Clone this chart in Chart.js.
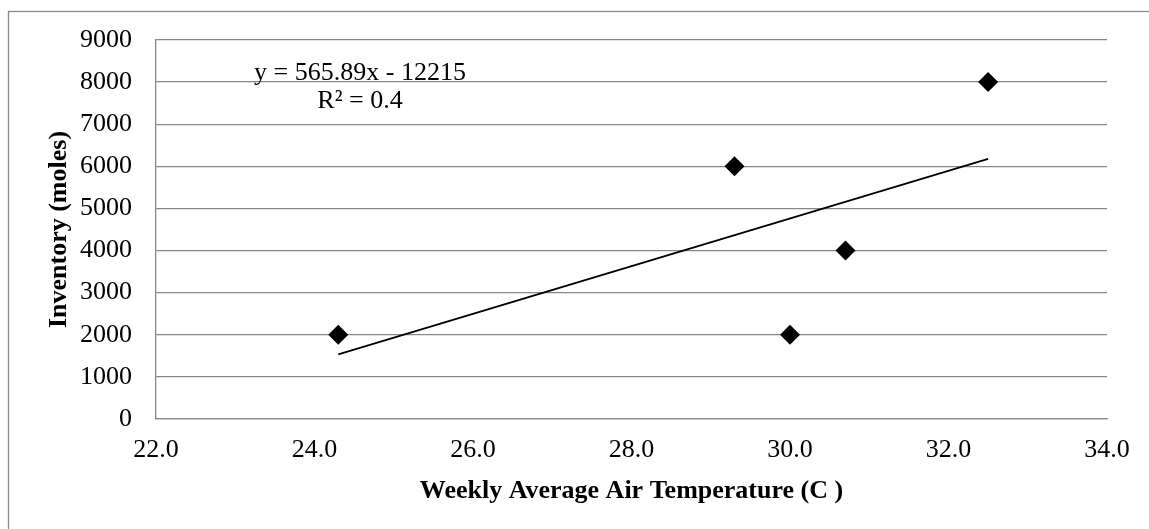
<!DOCTYPE html>
<html>
<head>
<meta charset="utf-8">
<title>Inventory vs Weekly Average Air Temperature</title>
<script src="https://cdn.jsdelivr.net/npm/chart.js@4.4.1/dist/chart.umd.min.js"></script>
<style>
  html, body { margin: 0; padding: 0; background: #ffffff; }
  #chartWrap { width: 1149px; height: 529px; }
</style>
</head>
<body>
<div id="chartWrap"><canvas id="canvasInventory" width="1149" height="529"></canvas></div>
<script>
"use strict";

// weekly average air temperature (C) and inventory (moles)
const temperatures = [24.3, 29.3, 30.0, 30.7, 32.5];
const inventories = [2000, 6000, 2000, 4000, 8000];

// linear trendline as printed on the chart
const trendSlope = 565.89;
const trendIntercept = -12215;
const trendR2 = 0.4;

const xTickValues = [22, 24, 26, 28, 30, 32, 34];
const yTickValues = [0, 1000, 2000, 3000, 4000, 5000, 6000, 7000, 8000, 9000];

const FONT = '"Liberation Serif", "Times New Roman", serif';
const GRID_GREY = '#878787';

function BuildPoints(xs, ys) {
    const pts = [];
    for (let i = 0; i < xs.length; i++) {
        pts.push({ x: xs[i], y: ys[i] });
    }
    return pts;
}

function BuildTrendline(xs) {
    const lo = Math.min.apply(null, xs);
    const hi = Math.max.apply(null, xs);
    return [
        { x: lo, y: trendSlope * lo + trendIntercept },
        { x: hi, y: trendSlope * hi + trendIntercept }
    ];
}

function TrendLabel() {
    const sign = trendIntercept < 0 ? ' - ' : ' + ';
    return [
        'y = ' + trendSlope + 'x' + sign + Math.abs(trendIntercept),
        'R\u00B2 = ' + trendR2
    ];
}

// grey frame round the whole chart
const framePlugin = {
    id: 'outerFrame',
    beforeDraw: function (chart) {
        const ctx = chart.ctx;
        ctx.save();
        ctx.strokeStyle = '#8a8a8a';
        ctx.lineWidth = 1.3;
        ctx.strokeRect(8.5, 11.5, 1400, 800);
        ctx.restore();
    }
};

// equation and R squared of the trendline
const equationPlugin = {
    id: 'trendEquation',
    afterDatasetsDraw: function (chart) {
        const ctx = chart.ctx;
        const lines = TrendLabel();
        ctx.save();
        ctx.fillStyle = '#000000';
        ctx.font = '26px ' + FONT;
        ctx.textAlign = 'center';
        ctx.textBaseline = 'middle';
        ctx.fillText(lines[0], 360, 73);
        ctx.fillText(lines[1], 360, 101);
        ctx.restore();
    }
};

const context = document.getElementById('canvasInventory');
const myChart = new Chart(context, {
    type: 'scatter',
    data: {
        datasets: [{
            label: 'Inventory',
            data: BuildPoints(temperatures, inventories),
            pointStyle: 'rectRot',
            pointRadius: 10,
            pointHoverRadius: 10,
            backgroundColor: '#000000',
            borderColor: '#000000',
            borderWidth: 0,
            order: 1
        }, {
            type: 'line',
            label: 'Linear trend',
            data: BuildTrendline(temperatures),
            borderColor: '#000000',
            borderWidth: 1.8,
            pointRadius: 0,
            fill: false,
            order: 2
        }]
    },
    options: {
        responsive: false,
        animation: false,
        layout: {
            padding: { left: 0, top: 40, right: 42, bottom: 0 }
        },
        plugins: {
            legend: { display: false },
            tooltip: { enabled: false }
        },
        scales: {
            x: {
                type: 'linear',
                min: xTickValues[0],
                max: xTickValues[xTickValues.length - 1],
                afterBuildTicks: function (scale) {
                    scale.ticks = xTickValues.map(function (v) { return { value: v }; });
                },
                afterFit: function (scale) {
                    scale.height = 110;
                },
                grid: { display: false, drawTicks: false },
                border: { display: true, color: GRID_GREY, width: 1.3 },
                ticks: {
                    padding: 16,
                    color: '#000000',
                    font: { family: FONT, size: 26 },
                    maxRotation: 0,
                    callback: function (value) { return Number(value).toFixed(1); }
                },
                title: {
                    display: true,
                    text: 'Weekly Average Air Temperature (C )',
                    color: '#000000',
                    font: { family: FONT, size: 26, weight: 'bold' },
                    padding: { top: 0, bottom: 22 }
                }
            },
            y: {
                type: 'linear',
                min: yTickValues[0],
                max: yTickValues[yTickValues.length - 1],
                afterBuildTicks: function (scale) {
                    scale.ticks = yTickValues.map(function (v) { return { value: v }; });
                },
                afterFit: function (scale) {
                    scale.width = 156;
                },
                grid: { color: GRID_GREY, lineWidth: 1.3, drawTicks: false },
                border: { display: true, color: GRID_GREY, width: 1.3 },
                ticks: {
                    padding: 24,
                    color: '#000000',
                    font: { family: FONT, size: 26 },
                    callback: function (value) { return String(value); }
                },
                title: {
                    display: true,
                    text: 'Inventory (moles)',
                    color: '#000000',
                    font: { family: FONT, size: 26, weight: 'bold' },
                    padding: { top: 44, bottom: 0 }
                }
            }
        }
    },
    plugins: [framePlugin, equationPlugin]
});
</script>
</body>
</html>
